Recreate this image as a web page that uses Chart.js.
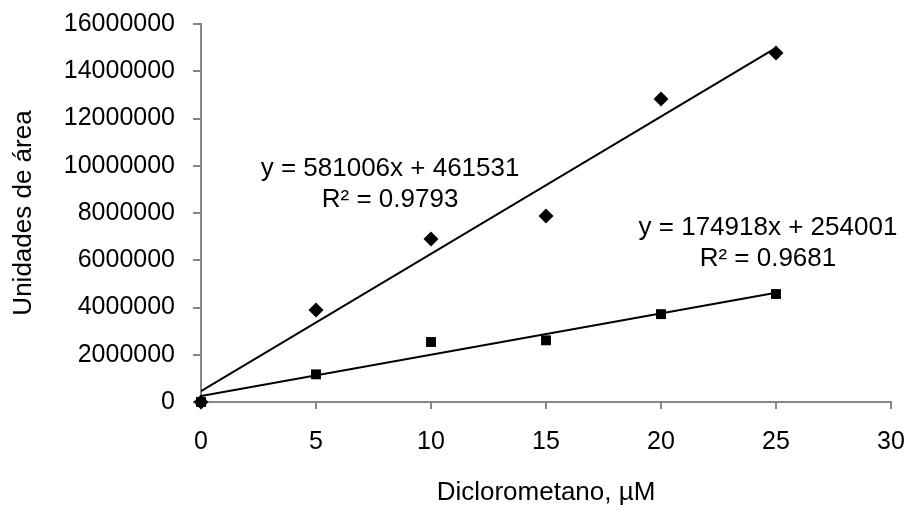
<!DOCTYPE html>
<html>
<head>
<meta charset="utf-8">
<script src="https://cdn.jsdelivr.net/npm/chart.js@4"></script>
<style>
  html, body { margin: 0; padding: 0; background: #fff; }
  #wrap { width: 911px; height: 510px; }
</style>
</head>
<body>
<div id="wrap"><canvas id="chart" width="911" height="510"></canvas></div>
<script>
// data
const concentrations = [0, 5, 10, 15, 20, 25];
const areaDiamonds = [0, 3890000, 6900000, 7870000, 12830000, 14770000];
const areaSquares = [0, 1170000, 2540000, 2610000, 3720000, 4570000];

// trendline equations as printed on the chart
const trendSlopes = [581006, 174918];
const trendIntercepts = [461531, 254001];
const trendLabels = [
    ['y = 581006x + 461531', 'R\u00b2 = 0.9793'],
    ['y = 174918x + 254001', 'R\u00b2 = 0.9681']
];

const xTicks = [0, 5, 10, 15, 20, 25, 30];
const xTitle = 'Diclorometano, \u00b5M';
const yTitle = 'Unidades de \u00e1rea';

const FONT = 'Liberation Sans, Arial, Helvetica, sans-serif';
const axisGray = '#868686';

const toPoints = (ys) => concentrations.map((x, i) => ({ x: x, y: ys[i] }));
const trendPoints = (k) => {
    const x0 = concentrations[0];
    const x1 = concentrations[concentrations.length - 1];
    return [
        { x: x0, y: trendSlopes[k] * x0 + trendIntercepts[k] },
        { x: x1, y: trendSlopes[k] * x1 + trendIntercepts[k] }
    ];
};

// where the equation boxes sit, in data units
const labelAnchors = [{ x: 8.22, y: 9860000 }, { x: 24.65, y: 7370000 }];

const equationLabels = {
    id: 'equationLabels',
    afterDatasetsDraw(chart) {
        const ctx = chart.ctx;
        const xs = chart.scales.x, ys = chart.scales.y;
        ctx.save();
        ctx.fillStyle = '#000';
        ctx.font = '26px ' + FONT;
        ctx.textAlign = 'center';
        ctx.textBaseline = 'middle';
        trendLabels.forEach((lines, k) => {
            const px = xs.getPixelForValue(labelAnchors[k].x);
            const py = ys.getPixelForValue(labelAnchors[k].y);
            lines.forEach((t, j) => ctx.fillText(t, px, py + j * 31));
        });
        ctx.restore();
    }
};

// chart.js pads the plot for overflowing tick labels; the layout padding already covers that
const noLabelPadding = (s) => {
    s.paddingTop = 0;
    s.paddingBottom = 0;
    s.paddingLeft = 0;
    s.paddingRight = 0;
};

new Chart(document.getElementById('chart').getContext('2d'), {
    type: 'scatter',
    data: {
        datasets: [
            {
                label: 'diamonds',
                data: toPoints(areaDiamonds),
                pointStyle: 'rectRot',
                pointRadius: 7.5,
                backgroundColor: '#000',
                borderColor: '#000',
                borderWidth: 0,
                showLine: false,
                clip: false
            },
            {
                label: 'squares',
                data: toPoints(areaSquares),
                pointStyle: 'rect',
                pointRadius: 7,
                backgroundColor: '#000',
                borderColor: '#000',
                borderWidth: 0,
                showLine: false,
                clip: false
            },
            {
                label: 'trend 1',
                data: trendPoints(0),
                showLine: true,
                borderColor: '#000',
                borderWidth: 2,
                pointRadius: 0
            },
            {
                label: 'trend 2',
                data: trendPoints(1),
                showLine: true,
                borderColor: '#000',
                borderWidth: 2,
                pointRadius: 0
            }
        ]
    },
    options: {
        responsive: false,
        animation: false,
        layout: { padding: { top: 24, right: 20, left: 0, bottom: 0 } },
        plugins: {
            legend: { display: false },
            tooltip: { enabled: false }
        },
        scales: {
            x: {
                type: 'linear',
                min: 0,
                max: 30,
                afterBuildTicks: (s) => { s.ticks = xTicks.map(v => ({ value: v })); },
                afterFit: (s) => { s.height = 108; noLabelPadding(s); },
                grid: { drawOnChartArea: false, color: axisGray, lineWidth: 2, tickLength: 7 },
                border: { color: axisGray, width: 2 },
                ticks: { color: '#000', padding: 18, font: { family: FONT, size: 25, lineHeight: 1.2 } },
                title: {
                    display: true,
                    text: xTitle,
                    color: '#000',
                    padding: { top: 0, bottom: 1.4 },
                    font: { family: FONT, size: 26, lineHeight: 1.2 }
                }
            },
            y: {
                type: 'linear',
                min: 0,
                max: 16000000,
                ticks: {
                    stepSize: 2000000,
                    color: '#000',
                    padding: 18,
                    font: { family: FONT, size: 25, lineHeight: 1.2 },
                    callback: (v) => String(v)
                },
                afterFit: (s) => { s.width = 201; noLabelPadding(s); },
                grid: { drawOnChartArea: false, color: axisGray, lineWidth: 2, tickLength: 8 },
                border: { color: axisGray, width: 2 },
                title: {
                    display: true,
                    text: yTitle,
                    color: '#000',
                    padding: { top: 8.4, bottom: 0 },
                    font: { family: FONT, size: 26, lineHeight: 1.2 }
                }
            }
        }
    },
    plugins: [equationLabels]
});
</script>
</body>
</html>
